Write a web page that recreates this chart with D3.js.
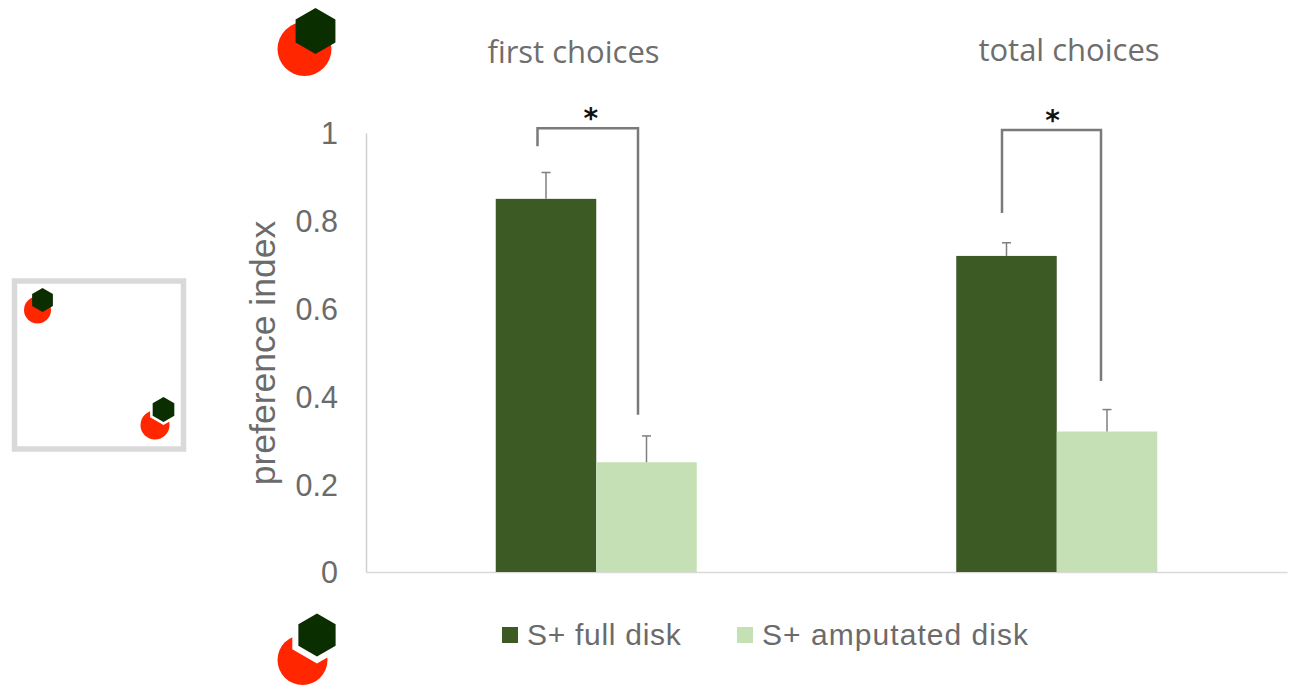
<!DOCTYPE html>
<html><head><meta charset="utf-8">
<script src="https://cdn.jsdelivr.net/npm/d3@7"></script>
<style>html,body{margin:0;padding:0;background:#fff}svg{display:block}</style>
</head><body><svg id="c" width="1291" height="686"></svg>
<script>
const categories = ["first choices","total choices"];
const seriesNames = ["S+ full disk","S+ amputated disk"];
const fullDisk = [0.85,0.72];
const amputatedDisk = [0.25,0.32];
const fullErr = [0.06,0.03];
const amputatedErr = [0.06,0.05];
const yTicks = [0,0.2,0.4,0.6,0.8,1];
const bracketTop = [1.011,1.007];
const bracketLeftFoot = [0.97,0.818];
const bracketRightFoot = [0.358,0.435];
const bracketShift = [-8.5,-4.5];
const colors = ["#3c5a24","#c5e0b4"];
const grey = "#6b6b6b";

const svg = d3.select("#c");
const x0 = d3.scaleBand().domain(categories).range([366,1287]);
const x1 = d3.scaleBand().domain(seriesNames).range([0,x0.bandwidth()]).paddingInner(0).paddingOuter(1.291);
const y = d3.scaleLinear().domain([0,1]).range([572,133]);

// axes
const ax = svg.append("g").attr("transform","translate(365,0)")
  .call(d3.axisLeft(y).tickValues(yTicks).tickFormat(d3.format("~g")).tickSize(0).tickPadding(27));
ax.select(".domain").attr("transform","translate(1,0)").attr("stroke","#d0d0d0").attr("stroke-width",1.5);
ax.selectAll("text").attr("font-family","Liberation Sans").attr("font-size",30.5).attr("fill",grey).attr("dy","0.36em");
const bx = svg.append("g").attr("transform","translate(0,572)")
  .call(d3.axisBottom(x0).tickSize(0).tickFormat(""));
bx.select(".domain").attr("stroke","#d9d9d9").attr("stroke-width",1.5);

svg.append("text").attr("transform","translate(275,353) rotate(-90)").attr("text-anchor","middle")
  .attr("font-family","Liberation Sans").attr("font-size",35.5).attr("fill",grey).text("preference index");

// bars + error bars
[[fullDisk,fullErr],[amputatedDisk,amputatedErr]].forEach(([vals,errs],s)=>{
  const name = seriesNames[s];
  const g = svg.append("g");
  g.selectAll("rect").data(categories).join("rect")
    .attr("x",c=>x0(c)+x1(name)).attr("width",x1.bandwidth())
    .attr("y",(c,i)=>y(vals[i])).attr("height",(c,i)=>y(0)-y(vals[i])).attr("fill",colors[s]);
  const e = svg.append("g").attr("stroke","#7f7f7f").attr("stroke-width",1.5).attr("fill","none");
  categories.forEach((c,i)=>{
    const cx = x0(c)+x1(name)+x1.bandwidth()/2;
    e.append("line").attr("x1",cx).attr("x2",cx).attr("y1",y(vals[i])).attr("y2",y(vals[i]+errs[i]));
    e.append("line").attr("x1",cx-4.5).attr("x2",cx+4.5).attr("y1",y(vals[i]+errs[i])).attr("y2",y(vals[i]+errs[i]));
  });
});

// significance brackets
categories.forEach((c,i)=>{
  const xl = x0(c)+x1(seriesNames[0])+x1.bandwidth()/2+bracketShift[i];
  const xr = x0(c)+x1(seriesNames[1])+x1.bandwidth()/2+bracketShift[i]-i*1.5;
  svg.append("path")
    .attr("d",`M${xl},${y(bracketLeftFoot[i])}V${y(bracketTop[i])}H${xr}V${y(bracketRightFoot[i])}`)
    .attr("fill","none").attr("stroke","#7a7a7a").attr("stroke-width",2.5);
  svg.append("text").attr("x",(xl+xr)/2+3-i*2).attr("y",y(bracketTop[i])).attr("text-anchor","middle")
    .attr("font-family","DejaVu Sans").attr("font-size",28).attr("font-weight","bold").attr("fill","#111").text("*");
});

// group titles
svg.selectAll(".title").data(categories).join("text").attr("class","title")
  .attr("x",(c,i)=>[573.5,1069][i]).attr("y",(c,i)=>[63,61][i]).attr("text-anchor","middle")
  .attr("font-family","Open Sans").attr("font-size",31).attr("fill","#6e6e6e").text(c=>c);

// legend
const legendX = [501,736];
seriesNames.forEach((n,i)=>{
  svg.append("rect").attr("x",legendX[i]+1).attr("y",627).attr("width",16).attr("height",16).attr("fill",colors[i]);
  svg.append("text").attr("x",legendX[i]+26).attr("y",645).attr("font-family","Liberation Sans")
    .attr("font-size",30).attr("letter-spacing",[0.72,1.05][i]).attr("fill",grey).text(n);
});

// stimuli icons
const hex = (cx,cy,r)=>d3.range(6).map(k=>{const a=Math.PI/3*k;return [cx+r*Math.sin(a),cy-r*Math.cos(a)];});
const hexPath = p=>"M"+p.map(q=>q.join(",")).join("L")+"Z";
const RED="#ff2600", DK="#0a2e00";
function icon(cc,cr,hc,hr,gap){
  svg.append("circle").attr("cx",cc[0]).attr("cy",cc[1]).attr("r",cr).attr("fill",RED);
  if(gap) svg.append("path").attr("d",hexPath(hex(hc[0],hc[1],hr+gap))).attr("fill","#fff");
  svg.append("path").attr("d",hexPath(hex(hc[0],hc[1],hr))).attr("fill",DK);
}
svg.append("rect").attr("x",14.5).attr("y",281).attr("width",169).attr("height",168).attr("fill","none").attr("stroke","#d9d9d9").attr("stroke-width",5.5);
icon([37.5,310],13.5,[42.5,300],12,0);
icon([155,425],14.5,[163.5,409.5],12.5,3);
icon([304.5,49],27,[315.5,31],23,0);
icon([302.5,660],25,[317,635],21.5,7);
</script></body></html>
